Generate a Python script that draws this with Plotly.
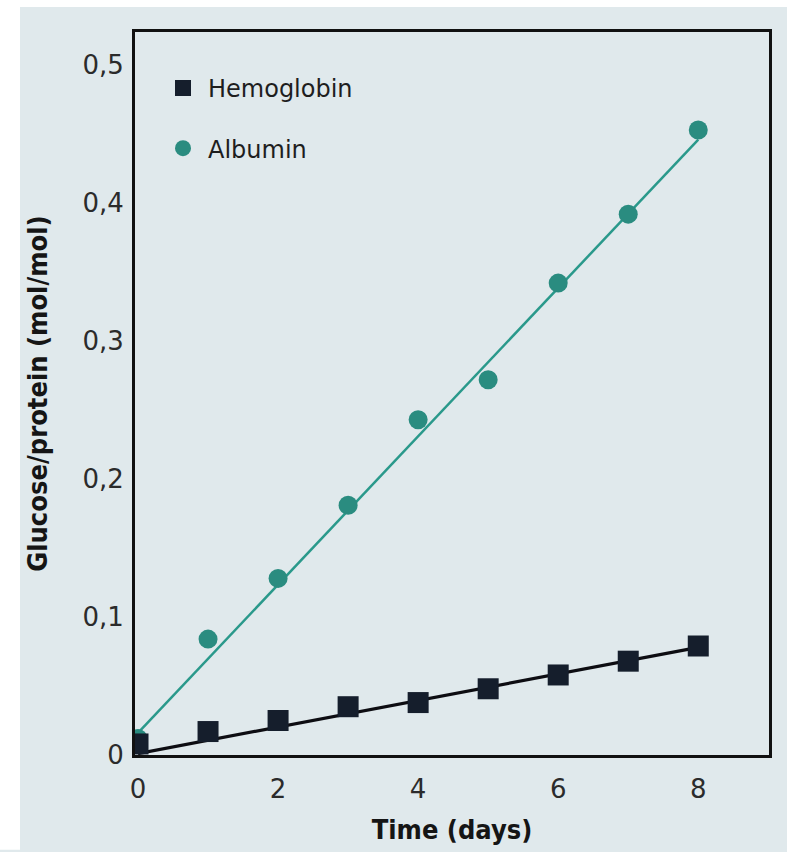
import plotly.graph_objects as go

days = [0, 1, 2, 3, 4, 5, 6, 7, 8]
hemoglobin = [0.008, 0.017, 0.025, 0.035, 0.038, 0.048, 0.058, 0.068, 0.079]
albumin = [0.012, 0.084, 0.128, 0.181, 0.243, 0.272, 0.342, 0.392, 0.453]
hb_fit_x = [0, 8]
hb_fit_y = [0.001, 0.078]
alb_fit_x = [0, 8]
alb_fit_y = [0.016, 0.446]
x_ticks = [0, 2, 4, 6, 8]
y_ticks = [0, 0.1, 0.2, 0.3, 0.4, 0.5]
y_ticktext = ["0", "0,1", "0,2", "0,3", "0,4", "0,5"]

bg = "#e0e9ec"
teal = "#2a8c80"
navy = "#151e2c"

W, H = 787, 852
L, R, T, B = 135, 18, 32, 95
PW, PH = W - L - R, H - T - B

fig = go.Figure()
fig.add_trace(go.Scatter(x=alb_fit_x, y=alb_fit_y, mode="lines",
                         line=dict(color="#2a998b", width=2.5), showlegend=False, hoverinfo="skip"))
fig.add_trace(go.Scatter(x=hb_fit_x, y=hb_fit_y, mode="lines",
                         line=dict(color="#0d0d12", width=3.2), showlegend=False, hoverinfo="skip"))
fig.add_trace(go.Scatter(x=days, y=albumin, mode="markers", name="Albumin", legendgroup="a",
                         legendrank=2, marker=dict(symbol="circle", size=19, color=teal)))
fig.add_trace(go.Scatter(x=days, y=hemoglobin, mode="markers", name="Hemoglobin", legendgroup="h",
                         legendrank=1, marker=dict(symbol="square", size=21, color=navy)))

tickfont = dict(family="DejaVu Sans, sans-serif", size=26, color="#2b2b2b")
titlefont = dict(family="DejaVu Sans Condensed, Liberation Sans, sans-serif",
                 size=27, color="#151515", weight="bold")

fig.update_layout(
    width=W, height=H,
    margin=dict(l=L, r=R, t=T, b=B),
    paper_bgcolor=bg, plot_bgcolor=bg,
    showlegend=True,
    legend=dict(x=(158 - L) / PW, y=(757 - 66) / PH, xanchor="left", yanchor="top",
                bgcolor="rgba(0,0,0,0)", traceorder="grouped",
                font=dict(family="DejaVu Sans, sans-serif", size=24, color="#1e1e1e"),
                itemsizing="trace", tracegroupgap=26, itemwidth=40),
    xaxis=dict(range=[-0.043, 9.01], tickvals=x_ticks, ticks="", showgrid=False, zeroline=False,
               showline=True, linecolor="#111", linewidth=3, mirror=True,
               tickfont=tickfont, ticklabelstandoff=9,
               title=dict(text="Time (days)", font=titlefont, standoff=17)),
    yaxis=dict(range=[0, 0.524], tickvals=y_ticks, ticktext=y_ticktext, ticks="",
               showgrid=False, zeroline=False,
               showline=True, linecolor="#111", linewidth=3, mirror=True,
               tickfont=tickfont, ticklabelstandoff=3,
               title=dict(text="Glucose/protein (mol/mol)", font=titlefont, standoff=27)),
    shapes=[
        dict(type="rect", xref="paper", yref="paper", x0=-L / PW, x1=(20 - L) / PW,
             y0=-B / PH, y1=(H - B) / PH, fillcolor="white", line=dict(width=0), layer="below"),
        dict(type="rect", xref="paper", yref="paper", x0=-L / PW, x1=(W - L) / PW,
             y0=(H - B - 7) / PH, y1=(H - B) / PH, fillcolor="white", line=dict(width=0), layer="below"),
    ],
)

fig.write_html("out.html", config={"displayModeBar": False},
               post_script="document.body.style.margin='0';")
